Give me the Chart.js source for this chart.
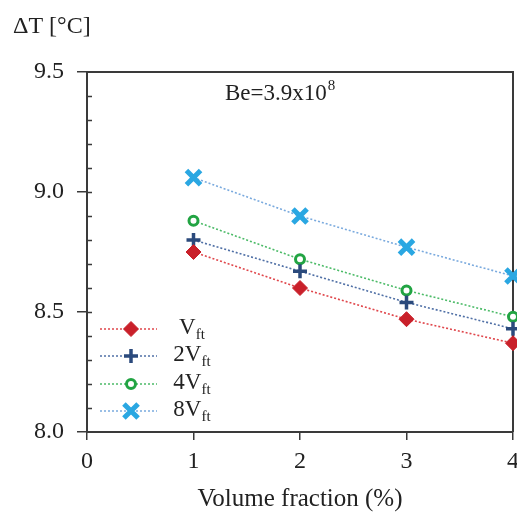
<!DOCTYPE html>
<html>
<head>
<meta charset="utf-8">
<script src="https://cdn.jsdelivr.net/npm/chart.js@4/dist/chart.umd.min.js"></script>
<style>
html, body { margin: 0; padding: 0; background: #fff; overflow: hidden; }
#wrap { width: 517px; height: 516px; overflow: hidden; }
</style>
</head>
<body>
<div id="wrap"><canvas id="dt" width="560" height="516"></canvas></div>
<script>
// fracao volumetrica (%) e deltaT para cada vazao
var fracao = [1, 2, 3, 4]
var dtV1 = [8.75, 8.60, 8.47, 8.37]
var dtV2 = [8.80, 8.67, 8.54, 8.43]
var dtV4 = [8.88, 8.72, 8.59, 8.48]
var dtV8 = [9.06, 8.90, 8.77, 8.65]
var nomes = ['V', '2V', '4V', '8V']
var subNome = 'ft'
var xTicks = [0, 1, 2, 3, 4]
var yTicks = [8.0, 8.5, 9.0, 9.5]
var textoBe = 'Be=3.9x10'
var expBe = '8'

var serif = "'Liberation Serif', 'Times New Roman', serif";
var corTexto = '#222222';
var corEixo = '#3a3a3a';

function pontos(vals) {
    return fracao.map(function (x, i) { return { x: x, y: vals[i] }; });
}

// moldura superior/direita e tracinhos internos do eixo y
var moldura = {
    id: 'moldura',
    beforeDatasetsDraw: function (chart) {
        var ctx = chart.ctx, a = chart.chartArea, y = chart.scales.y;
        ctx.save();
        ctx.strokeStyle = corEixo;
        ctx.lineWidth = 2;
        ctx.beginPath();
        ctx.moveTo(a.left, a.top);
        ctx.lineTo(a.right, a.top);
        ctx.lineTo(a.right, a.bottom);
        ctx.stroke();
        ctx.lineWidth = 1.5;
        ctx.beginPath();
        for (var i = 1; i < 15; i++) {
            var py = Math.round(y.getPixelForValue(8 + i * 0.1)) + 0.5;
            ctx.moveTo(a.left, py);
            ctx.lineTo(a.left + 5, py);
        }
        ctx.stroke();
        ctx.restore();
    }
};

// legenda dentro do grafico, com subscrito
var legenda = {
    id: 'legenda',
    afterDatasetsDraw: function (chart) {
        var ctx = chart.ctx;
        var linhasY = [329, 356, 384, 411];
        chart.data.datasets.forEach(function (ds, i) {
            var ly = linhasY[i];
            ctx.save();
            ctx.strokeStyle = ds.borderColor;
            ctx.lineWidth = ds.borderWidth;
            ctx.setLineDash(ds.borderDash);
            ctx.beginPath();
            ctx.moveTo(100, ly);
            ctx.lineTo(157, ly);
            ctx.stroke();
            ctx.setLineDash([]);
            ctx.fillStyle = ds.pointBackgroundColor;
            ctx.strokeStyle = ds.pointBorderColor;
            ctx.lineWidth = ds.pointBorderWidth;
            Chart.helpers.drawPoint(ctx, {
                pointStyle: ds.pointStyle,
                radius: ds.pointRadius,
                rotation: 0,
                borderWidth: ds.pointBorderWidth
            }, 131, ly);
            ctx.fillStyle = corTexto;
            ctx.textBaseline = 'alphabetic';
            ctx.font = '23px ' + serif;
            var w1 = ctx.measureText(nomes[i]).width;
            ctx.font = '15px ' + serif;
            var w2 = ctx.measureText(subNome).width;
            var x0 = 192 - (w1 + w2) / 2;
            ctx.font = '23px ' + serif;
            ctx.fillText(nomes[i], x0, ly + 5);
            ctx.font = '15px ' + serif;
            ctx.fillText(subNome, x0 + w1, ly + 10);
            ctx.restore();
        });
    }
};

// titulo do eixo y e anotacao do numero de Be
var textos = {
    id: 'textos',
    afterDraw: function (chart) {
        var ctx = chart.ctx;
        ctx.save();
        ctx.fillStyle = corTexto;
        ctx.textBaseline = 'alphabetic';
        ctx.font = '24px ' + serif;
        ctx.fillText('\u0394T [\u00B0C]', 13, 33);
        ctx.font = '23px ' + serif;
        ctx.fillText(textoBe, 225, 100);
        var w = ctx.measureText(textoBe).width;
        ctx.font = '15px ' + serif;
        ctx.fillText(expBe, 225 + w + 1, 90);
        ctx.restore();
    }
};

var ctx = document.getElementById('dt').getContext('2d');
var grafico = new Chart(ctx, {
    type: 'line',
    data: {
        datasets: [{
            label: 'V',
            data: pontos(dtV1),
            borderColor: '#e0474c',
            borderWidth: 1.6,
            borderDash: [2, 2],
            pointStyle: 'rectRot',
            pointRadius: 7.5,
            pointBackgroundColor: '#c9202a',
            pointBorderColor: '#c9202a',
            pointBorderWidth: 1,
            clip: false
        }, {
            label: '2V',
            data: pontos(dtV2),
            borderColor: '#5070a6',
            borderWidth: 1.6,
            borderDash: [2, 2],
            pointStyle: 'cross',
            pointRadius: 7,
            pointBackgroundColor: '#2b4a7c',
            pointBorderColor: '#2b4a7c',
            pointBorderWidth: 3.5,
            clip: false
        }, {
            label: '4V',
            data: pontos(dtV4),
            borderColor: '#4cbb68',
            borderWidth: 1.6,
            borderDash: [2, 2],
            pointStyle: 'circle',
            pointRadius: 4.5,
            pointBackgroundColor: '#ffffff',
            pointBorderColor: '#22a443',
            pointBorderWidth: 3,
            clip: false
        }, {
            label: '8V',
            data: pontos(dtV8),
            borderColor: '#7aaade',
            borderWidth: 1.6,
            borderDash: [2, 2],
            pointStyle: 'crossRot',
            pointRadius: 10,
            pointBackgroundColor: '#2aa7e2',
            pointBorderColor: '#2aa7e2',
            pointBorderWidth: 5,
            clip: false
        }]
    },
    options: {
        responsive: false,
        animation: false,
        layout: { padding: { left: 0, right: 47, top: 72, bottom: 2 } },
        plugins: {
            legend: { display: false },
            tooltip: { enabled: false }
        },
        scales: {
            x: {
                type: 'linear',
                min: 0,
                max: 4,
                afterBuildTicks: function (s) { s.ticks = xTicks.map(function (v) { return { value: v }; }); },
                afterFit: function (s) { s.height = 82; },
                ticks: { padding: 7, color: corTexto, font: { family: serif, size: 24 } },
                grid: { drawOnChartArea: false, tickLength: 8, color: corEixo, lineWidth: 1.5 },
                border: { color: corEixo, width: 2 },
                title: {
                    display: true,
                    text: 'Volume fraction (%)',
                    color: corTexto,
                    font: { family: serif, size: 25 },
                    padding: { top: 0, bottom: 0 }
                }
            },
            y: {
                min: 8,
                max: 9.5,
                afterBuildTicks: function (s) { s.ticks = yTicks.map(function (v) { return { value: v }; }); },
                afterFit: function (s) { s.width = 87; },
                ticks: {
                    padding: 13,
                    color: corTexto,
                    font: { family: serif, size: 24 },
                    callback: function (v) { return Number(v).toFixed(1); }
                },
                grid: { drawOnChartArea: false, tickLength: 10, color: corEixo, lineWidth: 1.5 },
                border: { color: corEixo, width: 2 }
            }
        }
    },
    plugins: [moldura, legenda, textos]
});
</script>
</body>
</html>
